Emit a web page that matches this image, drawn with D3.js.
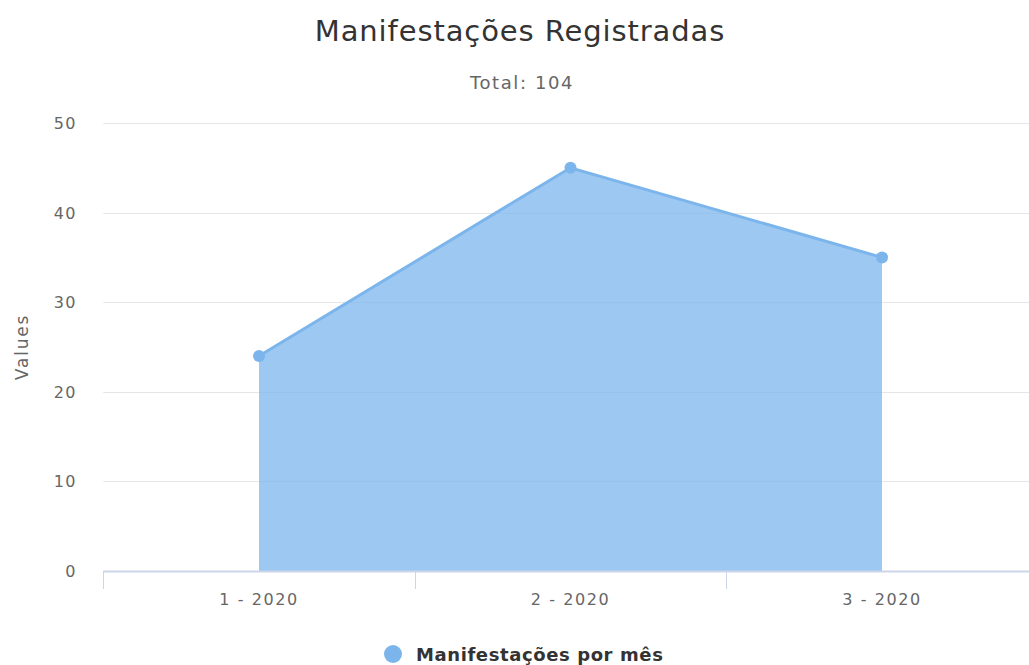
<!DOCTYPE html>
<html>
<head>
    <meta charset="UTF-8" />
    <title>Manifestações Registradas</title>
    <style>
        body {
            margin: 0;
            padding: 0;
            background: #fff;
            font-family: 'DejaVu Sans', Verdana, sans-serif;
        }
        svg { display: block; }
    </style>
</head>
<body>
    <div class="container"></div>

    <script src="https://cdnjs.cloudflare.com/ajax/libs/d3/7.8.5/d3.min.js"></script>
    <script>
        // chart data
        const categories = ['1 - 2020', '2 - 2020', '3 - 2020'];
        const values = [24, 45, 35];
        const yTicks = [0, 10, 20, 30, 40, 50];
        const seriesName = 'Manifestações por mês';
        const titleText = 'Manifestações Registradas';
        const subtitleText = 'Total: ' + d3.sum(values);

        const drawChart = () => {
            const width = 1029;
            const height = 665;
            const plot = { left: 103.25, right: 1037.75, top: 123, bottom: 571 };
            const color = '#7cb5ec';

            const svg = d3.select('.container').append('svg')
                .attr('width', width)
                .attr('height', height)

            const x = d3.scaleBand()
                .domain(categories)
                .range([plot.left, plot.right])
                .padding(0)

            const y = d3.scaleLinear()
                .domain([0, 50])
                .range([plot.bottom, plot.top])

            const cx = d => x(d) + x.bandwidth() / 2

            // gridlines
            svg.append('g')
                .selectAll('line')
                .data(yTicks.filter(t => t > 0))
                .join('line')
                .attr('x1', plot.left)
                .attr('x2', width)
                .attr('y1', d => Math.round(y(d)) + 0.5)
                .attr('y2', d => Math.round(y(d)) + 0.5)
                .attr('stroke', '#e6e6e6')
                .attr('stroke-width', 1)

            // y labels
            svg.append('g')
                .selectAll('text')
                .data(yTicks)
                .join('text')
                .attr('x', 77)
                .attr('y', d => y(d) + 6)
                .attr('text-anchor', 'end')
                .attr('fill', '#666')
                .attr('font-size', 16)
                .attr('letter-spacing', 1.5)
                .text(d => d)

            svg.append('text')
                .attr('transform', `translate(28, ${(plot.top + plot.bottom) / 2}) rotate(-90)`)
                .attr('text-anchor', 'middle')
                .attr('fill', '#666')
                .attr('font-size', 17)
                .attr('letter-spacing', 1.8)
                .text('Values')

            // area + line
            const pts = categories.map((c, i) => ({ c, v: values[i] }))

            svg.append('path')
                .datum(pts)
                .attr('d', d3.area().x(d => cx(d.c)).y0(y(0)).y1(d => y(d.v)))
                .attr('fill', color)
                .attr('fill-opacity', 0.75)

            svg.append('path')
                .datum(pts)
                .attr('d', d3.line().x(d => cx(d.c)).y(d => y(d.v)))
                .attr('fill', 'none')
                .attr('stroke', color)
                .attr('stroke-width', 3)

            svg.append('g')
                .selectAll('circle')
                .data(pts)
                .join('circle')
                .attr('cx', d => cx(d.c))
                .attr('cy', d => y(d.v))
                .attr('r', 6)
                .attr('fill', color)

            // x axis
            const xAxis = svg.append('g')
            xAxis.append('line')
                .attr('x1', plot.left)
                .attr('x2', width)
                .attr('y1', plot.bottom + 0.5)
                .attr('y2', plot.bottom + 0.5)
                .attr('stroke', '#ccd6eb')
                .attr('stroke-width', 2)

            const tickPos = categories.map(c => x(c))
            xAxis.selectAll('.tick')
                .data(tickPos)
                .join('line')
                .attr('class', 'tick')
                .attr('x1', d => Math.round(d) + 0.5)
                .attr('x2', d => Math.round(d) + 0.5)
                .attr('y1', plot.bottom)
                .attr('y2', plot.bottom + 18)
                .attr('stroke', '#ccd6eb')

            xAxis.selectAll('.lbl')
                .data(categories)
                .join('text')
                .attr('class', 'lbl')
                .attr('x', d => cx(d))
                .attr('y', 605)
                .attr('text-anchor', 'middle')
                .attr('fill', '#666')
                .attr('font-size', 16)
                .attr('letter-spacing', 1.6)
                .text(d => d)

            // titles
            svg.append('text')
                .attr('x', 520)
                .attr('y', 41)
                .attr('text-anchor', 'middle')
                .attr('fill', '#333')
                .attr('font-size', 29)
                .attr('letter-spacing', 0.9)
                .text(titleText)

            svg.append('text')
                .attr('x', 522)
                .attr('y', 89)
                .attr('text-anchor', 'middle')
                .attr('fill', '#666')
                .attr('font-size', 18)
                .attr('letter-spacing', 1.6)
                .text(subtitleText)

            // legend
            const legend = svg.append('g')
            legend.append('circle')
                .attr('cx', 393)
                .attr('cy', 654)
                .attr('r', 9)
                .attr('fill', color)
            legend.append('text')
                .attr('x', 416)
                .attr('y', 661)
                .attr('fill', '#333')
                .attr('font-size', 18)
                .attr('font-weight', 'bold')
                .attr('letter-spacing', 0.6)
                .text(seriesName)
        }

        drawChart();
    </script>
</body>
</html>
